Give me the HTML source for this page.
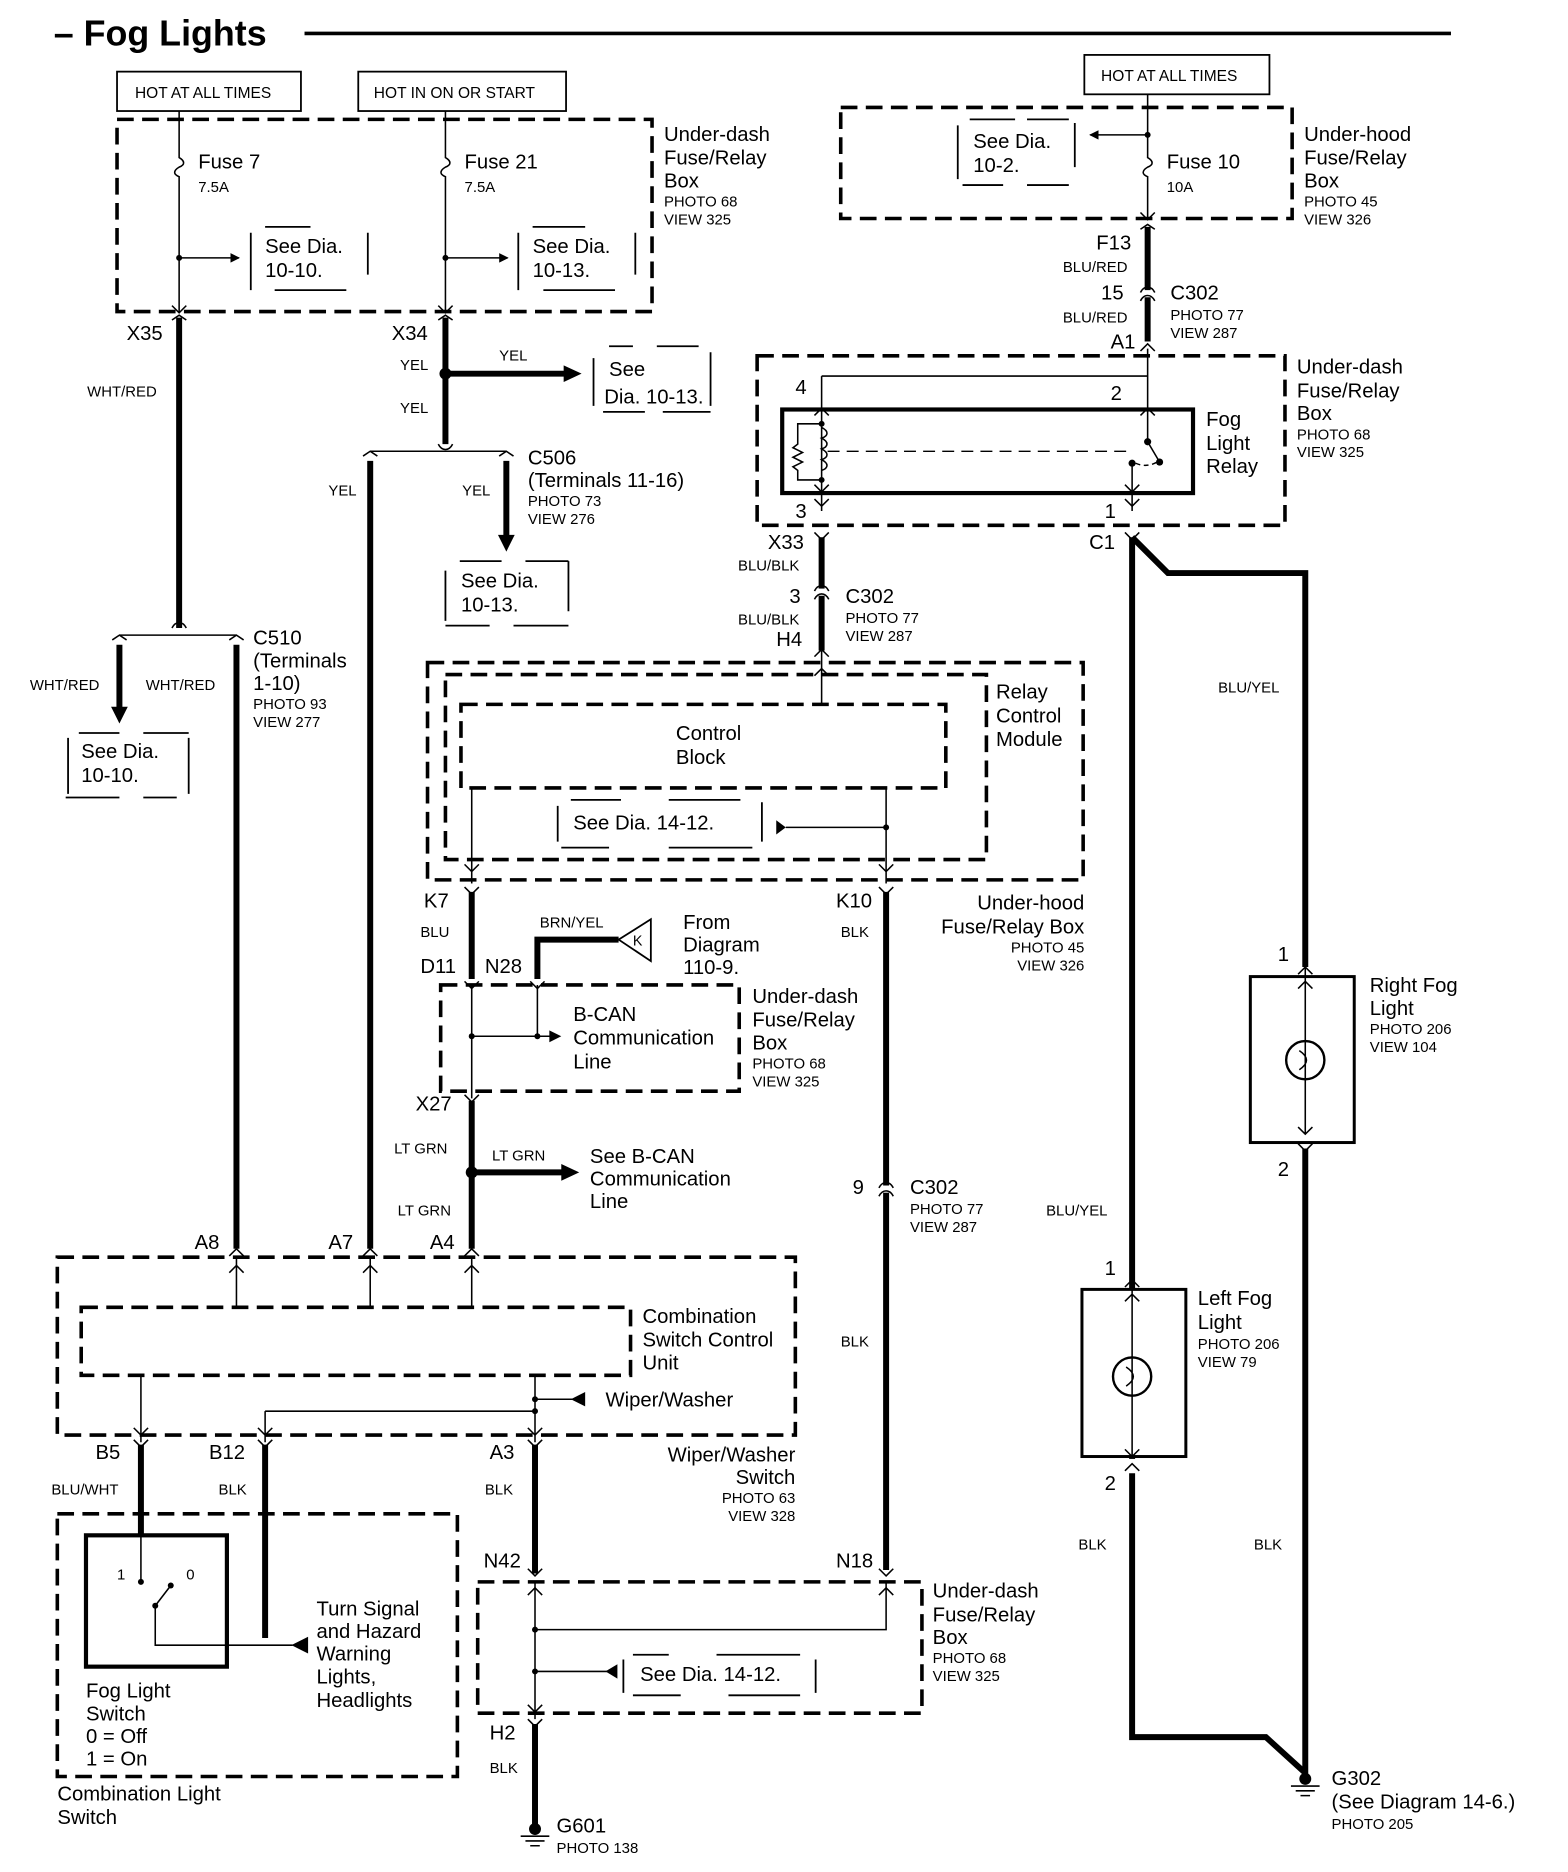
<!DOCTYPE html>
<html><head><meta charset="utf-8"><style>
html,body{margin:0;padding:0;background:#fff}
svg{display:block}
text{font-family:"Liberation Sans",Arial,sans-serif;fill:#000}
.m{font-size:17px}
.s{font-size:12.5px}
.w{stroke:#000;stroke-width:5;fill:none}
.t{stroke:#000;stroke-width:1.3;fill:none}
.d{stroke:#000;stroke-width:3;fill:none;stroke-dasharray:14 7}
.b{stroke:#000;stroke-width:1.5;fill:none}
</style></head><body>
<svg width="1568" height="1872" viewBox="0 0 1313 1568" preserveAspectRatio="none" xmlns="http://www.w3.org/2000/svg">
<defs>
<marker id="ah" markerWidth="8" markerHeight="8" refX="7" refY="4" orient="auto" markerUnits="userSpaceOnUse"><path d="M0,0 L8,4 L0,8z" fill="#000"/></marker>
</defs>
<text x="45" y="38" style="font-size:30px;font-weight:bold">– Fog Lights</text>
<line x1="255" y1="28" x2="1215" y2="28" stroke="#000" stroke-width="3"/>

<rect x="98" y="60" width="154" height="33" class="b" stroke-width="2"/><text x="113" y="82" class="s" style="font-size:13px">HOT AT ALL TIMES</text>
<rect x="300" y="60" width="174" height="33" class="b" stroke-width="2"/><text x="313" y="82" class="s" style="font-size:13px">HOT IN ON OR START</text>
<rect x="908" y="46" width="155" height="33" class="b" stroke-width="2"/><text x="922" y="68" class="s" style="font-size:13px">HOT AT ALL TIMES</text>

<rect x="98" y="100" width="448" height="161" class="d"/>
<text class="m" x="556" y="118">Under-dash</text><text class="m" x="556" y="138">Fuse/Relay</text><text class="m" x="556" y="157">Box</text>
<text class="s" x="556" y="173">PHOTO 68</text><text class="s" x="556" y="188">VIEW 325</text>
<path class="t" d="M150,93 V132 c5,3 5,6 0,8 c-5,3 -5,6 0,8 V262"/>
<circle cx="150" cy="216" r="2.5"/><line class="t" x1="150" y1="216" x2="200" y2="216" marker-end="url(#ah)"/>
<text class="m" x="166" y="141">Fuse 7</text><text class="s" x="166" y="161">7.5A</text>
<path class="b" d="M210,195 V243 M308,195 V230 M222,190 H260 M230,243 H290"/>
<text class="m" x="222" y="212">See Dia.</text><text class="m" x="222" y="232">10-10.</text>
<path class="t" d="M373,93 V132 c5,3 5,6 0,8 c-5,3 -5,6 0,8 V262"/>
<circle cx="373" cy="216" r="2.5"/><line class="t" x1="373" y1="216" x2="425" y2="216" marker-end="url(#ah)"/>
<text class="m" x="389" y="141">Fuse 21</text><text class="s" x="389" y="161">7.5A</text>
<path class="b" d="M434,195 V243 M532,195 V230 M446,190 H490 M455,243 H515"/>
<text class="m" x="446" y="212">See Dia.</text><text class="m" x="446" y="232">10-13.</text>
<path class="t" d="M144,256 L150,262 L156,256 M144,268 L150,264 L156,268 M367,256 L373,262 L379,256 M367,268 L373,264 L379,268"/>

<text class="m" x="106" y="285">X35</text>
<line class="w" x1="150" y1="266" x2="150" y2="526"/>
<text class="s" x="73" y="332">WHT/RED</text>
<path class="t" d="M144,526 C147,520 153,520 156,526 M100,532 H198"/>
<path class="t" d="M94,536 L100,532 L106,536 M192,536 L198,532 L204,536"/>
<line class="w" x1="100" y1="540" x2="100" y2="595"/><path d="M93,592 L100,606 L107,592z"/>
<line class="w" x1="198" y1="540" x2="198" y2="1046"/>
<text class="s" x="25" y="578">WHT/RED</text><text class="s" x="122" y="578">WHT/RED</text>
<text class="m" x="212" y="540">C510</text><text class="m" x="212" y="559">(Terminals</text><text class="m" x="212" y="578">1-10)</text>
<text class="s" x="212" y="594">PHOTO 93</text><text class="s" x="212" y="609">VIEW 277</text>
<path class="b" d="M57,618 V665 M158,618 V665 M66,614 H100 M120,614 H158 M55,668 H100 M120,668 H148"/>
<text class="m" x="68" y="635">See Dia.</text><text class="m" x="68" y="655">10-10.</text>

<text class="m" x="328" y="285">X34</text>
<line class="w" x1="373" y1="266" x2="373" y2="372"/>
<text class="s" x="335" y="310">YEL</text><text class="s" x="335" y="346">YEL</text><text class="s" x="418" y="302">YEL</text>
<circle cx="373" cy="313" r="5"/><line class="w" x1="373" y1="313" x2="475" y2="313" stroke-width="4"/><path d="M472,306 L487,313 L472,320z"/>
<path class="b" d="M497,300 V340 M595,295 V340 M510,290 H530 M550,290 H585 M505,345 H540 M555,345 H595"/>
<text class="m" x="510" y="315">See</text><text class="m" x="506" y="338">Dia. 10-13.</text>
<path class="t" d="M367,372 C370,378 376,378 379,372 M310,378 H424 M304,382 L310,378 L316,382 M418,382 L424,378 L430,382"/>
<line class="w" x1="310" y1="386" x2="310" y2="1046"/>
<text class="s" x="275" y="415">YEL</text><text class="s" x="387" y="415">YEL</text>
<line class="w" x1="424" y1="386" x2="424" y2="452"/><path d="M417,448 L424,462 L431,448z"/>
<text class="m" x="442" y="389">C506</text><text class="m" x="442" y="408">(Terminals 11-16)</text>
<text class="s" x="442" y="424">PHOTO 73</text><text class="s" x="442" y="439">VIEW 276</text>
<path class="b" d="M373,478 V520 M476,470 V512 M385,470 H420 M440,470 H476 M373,524 H410 M430,524 H476"/>
<text class="m" x="386" y="492">See Dia.</text><text class="m" x="386" y="512">10-13.</text>

<rect x="704" y="90" width="378" height="93" class="d"/>
<text class="m" x="1092" y="118">Under-hood</text><text class="m" x="1092" y="138">Fuse/Relay</text><text class="m" x="1092" y="157">Box</text>
<text class="s" x="1092" y="173">PHOTO 45</text><text class="s" x="1092" y="188">VIEW 326</text>
<path class="t" d="M961,79 V132 c5,3 5,6 0,8 c-5,3 -5,6 0,8 V184"/>
<circle cx="961" cy="113" r="2.5"/><line class="t" x1="961" y1="113" x2="913" y2="113" marker-end="url(#ah)"/>
<text class="m" x="977" y="141">Fuse 10</text><text class="s" x="977" y="161">10A</text>
<path class="b" d="M802,105 V150 M900,103 V140 M812,100 H850 M860,100 H895 M806,155 H840 M860,155 H895"/>
<text class="m" x="815" y="124">See Dia.</text><text class="m" x="815" y="144">10-2.</text>
<path class="t" d="M955,178 L961,184 L967,178 M955,192 L961,188 L967,192"/>
<line class="w" x1="961" y1="190" x2="961" y2="286"/>
<path class="t" d="M955,245 C958,239 964,239 967,245"/><rect x="957" y="243" width="8" height="6" fill="#fff"/>
<path class="t" d="M955,252 C958,246 964,246 967,252"/>
<text class="m" x="918" y="209">F13</text><text class="s" x="890" y="228">BLU/RED</text>
<text class="m" x="922" y="251">15</text><text class="m" x="980" y="251">C302</text>
<text class="s" x="980" y="268">PHOTO 77</text><text class="s" x="980" y="283">VIEW 287</text>
<text class="s" x="890" y="270">BLU/RED</text><text class="m" x="930" y="292">A1</text>
<path class="t" d="M955,294 L961,288 L967,294"/>

<rect x="634" y="298" width="442" height="142" class="d"/>
<text class="m" x="1086" y="313">Under-dash</text><text class="m" x="1086" y="333">Fuse/Relay</text><text class="m" x="1086" y="352">Box</text>
<text class="s" x="1086" y="368">PHOTO 68</text><text class="s" x="1086" y="383">VIEW 325</text>
<rect x="655" y="343" width="344" height="70" fill="none" stroke="#000" stroke-width="3.5"/>
<path class="t" d="M961,292 V370 M688,315 H961 M688,315 V428 M948,388 V428"/>
<path class="t" d="M682,348 L688,342 L694,348 M955,348 L961,342 L967,348 M682,406 L688,412 L694,406 M942,406 L948,412 L954,406 M682,418 L688,424 L694,418 M942,418 L948,424 L954,418"/>
<path class="t" d="M688,355 H668 V372 l-4,3 8,4 -8,4 8,4 -8,4 4,3 V402 H688"/>
<path class="t" d="M688,358 c6,3 6,7 0,9 c6,3 6,7 0,9 c6,3 6,7 0,9 c6,3 6,7 0,9"/>
<circle cx="688" cy="355" r="2.5"/><circle cx="688" cy="402" r="2.5"/>
<line x1="693" y1="378" x2="945" y2="378" stroke="#000" stroke-width="1.2" stroke-dasharray="10 6"/>
<circle cx="961" cy="370" r="3"/><line class="t" x1="961" y1="370" x2="971" y2="387"/><circle cx="971" cy="387" r="3"/>
<circle cx="948" cy="388" r="3"/><path d="M951,388 Q960,392 969,387" stroke="#000" stroke-width="1.2" fill="none" stroke-dasharray="4 3"/>
<text class="m" x="666" y="330">4</text><text class="m" x="930" y="335">2</text>
<text class="m" x="1010" y="357">Fog</text><text class="m" x="1010" y="377">Light</text><text class="m" x="1010" y="396">Relay</text>
<text class="m" x="666" y="434">3</text><text class="m" x="925" y="434">1</text>

<path class="t" d="M682,446 L688,452 L694,446 M942,446 L948,452 L954,446"/>
<text class="m" x="643" y="460">X33</text><text class="s" x="618" y="478">BLU/BLK</text>
<line class="w" x1="688" y1="450" x2="688" y2="545"/>
<path class="t" d="M682,495 C685,489 691,489 694,495"/><rect x="684" y="493" width="8" height="6" fill="#fff"/>
<path class="t" d="M682,502 C685,496 691,496 694,502"/>
<text class="m" x="661" y="505">3</text><text class="m" x="708" y="505">C302</text>
<text class="s" x="708" y="522">PHOTO 77</text><text class="s" x="708" y="537">VIEW 287</text>
<text class="s" x="618" y="523">BLU/BLK</text><text class="m" x="650" y="541">H4</text>
<path class="t" d="M682,550 L688,544 L694,550"/>
<text class="m" x="912" y="460">C1</text>
<path class="w" d="M948,450 V1455 H1060 L1093,1485"/>
<path class="w" d="M948,450 L978,480 H1093 V810"/>
<text class="s" x="1020" y="580">BLU/YEL</text>

<rect x="358" y="555" width="549" height="182" class="d"/>
<rect x="373" y="565" width="453" height="155" class="d"/>
<rect x="386" y="590" width="406" height="70" class="d" stroke-width="2.5"/>
<text class="m" x="566" y="620">Control</text><text class="m" x="566" y="640">Block</text>
<text class="m" x="834" y="585">Relay</text><text class="m" x="834" y="605">Control</text><text class="m" x="834" y="625">Module</text>
<line class="t" x1="688" y1="545" x2="688" y2="590"/><path class="t" d="M682,566 L688,560 L694,566"/>
<line class="t" x1="395" y1="660" x2="395" y2="740"/><path class="t" d="M389,724 L395,730 L401,724"/>
<line class="t" x1="742" y1="660" x2="742" y2="740"/><path class="t" d="M736,724 L742,730 L748,724"/>
<path class="b" d="M467,675 V705 M638,672 V705 M478,670 H520 M560,670 H620 M470,710 H510 M560,710 H630"/>
<text class="m" x="480" y="695">See Dia. 14-12.</text>
<path d="M650,687 L658,693 L650,699z"/><line class="t" x1="658" y1="693" x2="742" y2="693"/><circle cx="742" cy="693" r="2.5"/>

<path class="t" d="M389,743 L395,749 L401,743 M736,743 L742,749 L748,743"/>
<text class="m" x="355" y="760">K7</text><text class="s" x="352" y="785">BLU</text>
<line class="w" x1="395" y1="747" x2="395" y2="820"/>
<text class="m" x="700" y="760">K10</text><text class="s" x="704" y="785">BLK</text>
<line class="w" x1="742" y1="747" x2="742" y2="1315"/>
<path class="t" d="M736,995 C739,989 745,989 748,995"/><rect x="738" y="993" width="8" height="6" fill="#fff"/>
<path class="t" d="M736,1002 C739,996 745,996 748,1002"/>
<text class="m" x="714" y="1000">9</text><text class="m" x="762" y="1000">C302</text>
<text class="s" x="762" y="1017">PHOTO 77</text><text class="s" x="762" y="1032">VIEW 287</text>
<text class="s" x="704" y="1128">BLK</text>
<text class="m" x="908" y="762" text-anchor="end">Under-hood</text><text class="m" x="908" y="782" text-anchor="end">Fuse/Relay Box</text>
<text class="s" x="908" y="798" text-anchor="end">PHOTO 45</text><text class="s" x="908" y="813" text-anchor="end">VIEW 326</text>

<text class="s" x="452" y="777">BRN/YEL</text>
<path class="w" d="M450,820 V787 H518" stroke-width="4"/>
<path d="M518,787 L545,770 V805 Z" fill="#fff" stroke="#000" stroke-width="1.5"/><text x="530" y="792" style="font-size:12px">K</text>
<text class="m" x="572" y="778">From</text><text class="m" x="572" y="797">Diagram</text><text class="m" x="572" y="816">110-9.</text>
<text class="m" x="352" y="815">D11</text><text class="m" x="406" y="815">N28</text>
<path class="t" d="M389,822 L395,828 L401,822 M444,822 L450,828 L456,822"/>
<rect x="369" y="825" width="250" height="89" class="d"/>
<path class="t" d="M395,825 V920 M450,825 V868 M395,868 H462"/><path d="M460,863 L470,868 L460,873z"/>
<circle cx="395" cy="868" r="2.5"/><circle cx="450" cy="868" r="2.5"/>
<text class="m" x="480" y="855">B-CAN</text><text class="m" x="480" y="875">Communication</text><text class="m" x="480" y="895">Line</text>
<text class="m" x="630" y="840">Under-dash</text><text class="m" x="630" y="860">Fuse/Relay</text><text class="m" x="630" y="879">Box</text>
<text class="s" x="630" y="895">PHOTO 68</text><text class="s" x="630" y="910">VIEW 325</text>
<path class="t" d="M389,917 L395,923 L401,917"/>
<text class="m" x="348" y="930">X27</text>
<line class="w" x1="395" y1="922" x2="395" y2="1046"/>
<text class="s" x="330" y="966">LT GRN</text><text class="s" x="412" y="972">LT GRN</text><text class="s" x="333" y="1018">LT GRN</text>
<circle cx="395" cy="982" r="5"/><line class="w" x1="395" y1="982" x2="472" y2="982" stroke-width="4"/><path d="M470,975 L485,982 L470,989z"/>
<text class="m" x="494" y="974">See B-CAN</text><text class="m" x="494" y="993">Communication</text><text class="m" x="494" y="1012">Line</text>

<text class="m" x="163" y="1046">A8</text><text class="m" x="275" y="1046">A7</text><text class="m" x="360" y="1046">A4</text>
<path class="t" d="M192,1052 L198,1046 L204,1052 M304,1052 L310,1046 L316,1052 M389,1052 L395,1046 L401,1052"/>
<rect x="48" y="1053" width="618" height="149" class="d"/>
<rect x="68" y="1095" width="460" height="57" class="d" stroke-width="2.5"/>
<path class="t" d="M198,1053 V1095 M310,1053 V1095 M395,1053 V1095"/>
<path class="t" d="M192,1066 L198,1060 L204,1066 M304,1066 L310,1060 L316,1066 M389,1066 L395,1060 L401,1066"/>
<text class="m" x="538" y="1108">Combination</text><text class="m" x="538" y="1128">Switch Control</text><text class="m" x="538" y="1147">Unit</text>
<path class="t" d="M118,1152 V1208 M448,1152 V1208 M448,1172 H480 M222,1182 H448 M222,1182 V1208"/>
<path d="M490,1166 L478,1172 L490,1178z"/><circle cx="448" cy="1172" r="2.5"/><circle cx="448" cy="1182" r="2.5"/>
<path class="t" d="M112,1196 L118,1202 L124,1196 M216,1196 L222,1202 L228,1196 M442,1196 L448,1202 L454,1196"/>
<text class="m" x="507" y="1178">Wiper/Washer</text>
<text class="m" x="80" y="1222">B5</text><text class="m" x="175" y="1222">B12</text><text class="m" x="410" y="1222">A3</text>
<path class="t" d="M112,1206 L118,1212 L124,1206 M216,1206 L222,1212 L228,1206 M442,1206 L448,1212 L454,1206"/>
<text class="m" x="666" y="1224" text-anchor="end">Wiper/Washer</text><text class="m" x="666" y="1243" text-anchor="end">Switch</text>
<text class="s" x="666" y="1259" text-anchor="end">PHOTO 63</text><text class="s" x="666" y="1274" text-anchor="end">VIEW 328</text>
<text class="s" x="43" y="1252">BLU/WHT</text><text class="s" x="183" y="1252">BLK</text><text class="s" x="406" y="1252">BLK</text>

<line class="w" x1="118" y1="1210" x2="118" y2="1286"/>
<line class="w" x1="222" y1="1210" x2="222" y2="1372"/>
<rect x="48" y="1268" width="335" height="220" class="d"/>
<rect x="72" y="1286" width="118" height="110" fill="none" stroke="#000" stroke-width="3.5"/>
<path class="t" d="M118,1286 V1325 M130,1345 V1378 H245"/>
<circle cx="118" cy="1325" r="2.5"/><circle cx="143" cy="1328" r="2.5"/><circle cx="130" cy="1345" r="2.5"/>
<line class="t" x1="130" y1="1345" x2="143" y2="1328"/>
<path d="M258,1371 L244,1378 L258,1385z"/>
<text class="s" x="98" y="1323">1</text><text class="s" x="156" y="1323">0</text>
<text class="m" x="265" y="1353">Turn Signal</text><text class="m" x="265" y="1372">and Hazard</text><text class="m" x="265" y="1391">Warning</text><text class="m" x="265" y="1410">Lights,</text><text class="m" x="265" y="1430">Headlights</text>
<text class="m" x="72" y="1422">Fog Light</text><text class="m" x="72" y="1441">Switch</text><text class="m" x="72" y="1460">0 = Off</text><text class="m" x="72" y="1479">1 = On</text>
<text class="m" x="48" y="1508">Combination Light</text><text class="m" x="48" y="1528">Switch</text>

<line class="w" x1="448" y1="1210" x2="448" y2="1318"/>
<text class="m" x="405" y="1313">N42</text><text class="m" x="700" y="1313">N18</text>
<path class="t" d="M442,1314 L448,1320 L454,1314 M736,1314 L742,1320 L748,1314"/>
<rect x="400" y="1325" width="372" height="110" class="d"/>
<path class="t" d="M448,1325 V1440 M448,1365 H742 V1325 M448,1400 H510"/>
<path class="t" d="M442,1336 L448,1330 L454,1336 M736,1336 L742,1330 L748,1336 M442,1428 L448,1434 L454,1428"/>
<circle cx="448" cy="1365" r="2.5"/><circle cx="448" cy="1400" r="2.5"/>
<path d="M517,1394 L507,1400 L517,1406z"/>
<path class="b" d="M522,1390 V1418 M683,1390 V1418 M530,1386 H560 M600,1386 H670 M530,1420 H570 M610,1420 H670"/>
<text class="m" x="536" y="1408">See Dia. 14-12.</text>
<text class="m" x="781" y="1338">Under-dash</text><text class="m" x="781" y="1358">Fuse/Relay</text><text class="m" x="781" y="1377">Box</text>
<text class="s" x="781" y="1393">PHOTO 68</text><text class="s" x="781" y="1408">VIEW 325</text>
<text class="m" x="410" y="1457">H2</text>
<path class="t" d="M442,1440 L448,1446 L454,1440"/>
<line class="w" x1="448" y1="1444" x2="448" y2="1528"/>
<text class="s" x="410" y="1485">BLK</text>
<circle cx="448" cy="1532" r="5"/><path class="t" d="M436,1538 H460 M440,1542 H456 M444,1546 H452"/>
<text class="m" x="466" y="1535">G601</text><text class="s" x="466" y="1552">PHOTO 138</text>

<rect x="1047" y="818" width="87" height="139" fill="none" stroke="#000" stroke-width="2.5"/>
<path class="t" d="M1093,810 V950 M1087,816 L1093,810 L1099,816 M1087,828 L1093,822 L1099,828 M1087,944 L1093,950 L1099,944"/>
<circle cx="1093" cy="888" r="16" fill="#fff" stroke="#000" stroke-width="2"/><path class="t" d="M1088,880 Q1100,888 1088,896 M1093,872 V904"/>
<path class="t" d="M1087,958 L1093,964 L1099,958"/>
<text class="m" x="1070" y="805">1</text><text class="m" x="1070" y="985">2</text>
<text class="m" x="1147" y="831">Right Fog</text><text class="m" x="1147" y="850">Light</text>
<text class="s" x="1147" y="866">PHOTO 206</text><text class="s" x="1147" y="881">VIEW 104</text>
<line class="w" x1="1093" y1="962" x2="1093" y2="1487"/>
<text class="s" x="876" y="1018">BLU/YEL</text>

<rect x="906" y="1080" width="87" height="140" fill="#fff" stroke="#000" stroke-width="2.5"/>
<path class="t" d="M948,1072 V1226 M942,1078 L948,1072 L954,1078 M942,1090 L948,1084 L954,1090 M942,1214 L948,1220 L954,1214"/>
<circle cx="948" cy="1153" r="16" fill="#fff" stroke="#000" stroke-width="2"/><path class="t" d="M943,1145 Q955,1153 943,1161 M948,1137 V1169"/>
<rect x="944" y="1222" width="8" height="12" fill="#fff"/>
<path class="t" d="M942,1232 L948,1226 L954,1232"/>
<text class="m" x="925" y="1068">1</text><text class="m" x="925" y="1248">2</text>
<text class="m" x="1003" y="1093">Left Fog</text><text class="m" x="1003" y="1113">Light</text>
<text class="s" x="1003" y="1130">PHOTO 206</text><text class="s" x="1003" y="1145">VIEW 79</text>
<text class="s" x="903" y="1298">BLK</text><text class="s" x="1050" y="1298">BLK</text>
<circle cx="1093" cy="1490" r="5"/><path class="t" d="M1081,1496 H1105 M1085,1500 H1101 M1089,1504 H1097"/>
<text class="m" x="1115" y="1495">G302</text><text class="m" x="1115" y="1515">(See Diagram  14-6.)</text>
<text class="s" x="1115" y="1532">PHOTO 205</text>
</svg>
</body></html>
